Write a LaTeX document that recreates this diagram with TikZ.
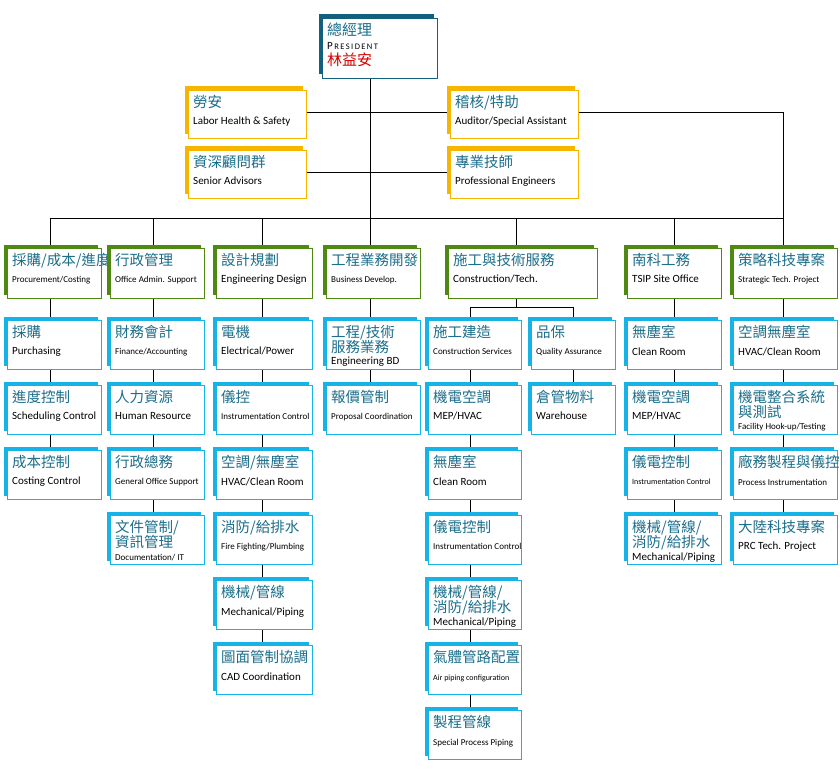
\documentclass[tikz,border=0pt]{standalone}
\usepackage{fontspec}
\setmainfont{Carlito}
\newfontfamily\cjfont{Noto Sans CJK TC}
\definecolor{teal}{HTML}{1B6E8C}
\definecolor{pres}{HTML}{12607C}
\definecolor{yel}{HTML}{F7B500}
\definecolor{grn}{HTML}{4E8A12}
\definecolor{cya}{HTML}{16B4E6}
\newcommand\cj[1]{{\cjfont\fontsize{14.5}{17}\selectfont\color{teal}#1}}
\newcommand\en[1]{{\fontsize{11}{17}\selectfont #1}}
\newcommand\es[1]{{\fontsize{9}{17}\selectfont #1}}
\tikzset{
 box/.style={draw=#1, fill=white, line width=0.9pt, inner sep=0pt,
   preaction={fill=#1, transform canvas={shift={(-3.5pt,3.5pt)}}}},
 conn/.style={line width=0.8pt, black}
}
\newcommand\bx[7]{%
 \node[box=#6, minimum width={(#4-#2)*1pt}, minimum height={(#5-#3)*1pt}] (#1) at ({(#2+#4)/2},{(#3+#5)/2}) {};
 \node[anchor=north west, align=left, inner sep=0pt, font=\fontsize{11}{17.5}\selectfont] (#1t) at ({#2+5},{#3+5}) {#7};}
\begin{document}
\begin{tikzpicture}[x=1pt,y=-1pt]
\useasboundingbox (0,0) rectangle (840,770);
\coordinate (j0) at (370,218);
\coordinate (jl) at (50,218);
\coordinate (jr) at (783,112);
\coordinate (b5) at (516,307);
\draw[conn] (370,78) -- (j0);
\draw[conn] (306,112) -- (450,112);
\draw[conn] (306,172) -- (450,172);
\draw[conn] (578,112) -- (jr) -- (783,248);
\draw[conn] (jl) -- (783,218);
\foreach \x in {50,153,262,370,516,674}{\draw[conn] (\x,218) -- (\x,248);}
\draw[conn] (516,298) -- (b5);
\draw[conn] (470,320) -- (470,307) -- (573,307) -- (573,320);
\foreach \x/\ya/\yy in {50/298/450,153/298/515,262/298/645,370/298/385,470/320/710,573/320/385,674/298/515,783/298/515}{\draw[conn] (\x,\ya) -- (\x,\yy);}
% top
\bx{pres}{322}{18}{437}{78}{pres}{{\cjfont\fontsize{15}{17}\selectfont\color{teal}總經理}\\[-4pt]{\fontsize{11}{13}\selectfont P\fontsize{8.5}{13}\selectfont\,R\,E\,S\,I\,D\,E\,N\,T}\\[-1pt]{\cjfont\fontsize{15}{17}\selectfont\color{red!85!black}林益安}}
\bx{labor}{188}{90}{306}{138}{yel}{\cj{勞安}\\\en{Labor Health \& Safety}}
\bx{senior}{188}{150}{306}{198}{yel}{\cj{資深顧問群}\\\en{Senior Advisors}}
\bx{audit}{450}{90}{578}{138}{yel}{\cj{稽核/特助}\\\en{Auditor/Special Assistant}}
\bx{prof}{450}{150}{578}{198}{yel}{\cj{專業技師}\\\en{Professional Engineers}}
% headers
\bx{h1}{7}{248}{101}{298}{grn}{\cj{採購/成本/進度}\\\es{Procurement/Costing}}
\bx{h2}{110}{248}{204}{298}{grn}{\cj{行政管理}\\\es{Office Admin. Support}}
\bx{h3}{216}{248}{312}{298}{grn}{\cj{設計規劃}\\\en{Engineering Design}}
\bx{h4}{326}{248}{420}{298}{grn}{\cj{工程業務開發}\\\es{Business Develop.}}
\bx{h5}{448}{248}{597}{298}{grn}{\cj{施工與技術服務}\\\en{Construction/Tech.}}
\bx{h6}{627}{248}{721}{298}{grn}{\cj{南科工務}\\\en{TSIP Site Office}}
\bx{h7}{733}{248}{837}{298}{grn}{\cj{策略科技專案}\\\es{Strategic Tech. Project}}
% col1
\bx{a1}{7}{320}{101}{369}{cya}{\cj{採購}\\\en{Purchasing}}
\bx{a2}{7}{385}{101}{434}{cya}{\cj{進度控制}\\\en{Scheduling Control}}
\bx{a3}{7}{450}{101}{499}{cya}{\cj{成本控制}\\\en{Costing Control}}
% col2
\bx{b1}{110}{320}{204}{369}{cya}{\cj{財務會計}\\\es{Finance/Accounting}}
\bx{b2}{110}{385}{204}{434}{cya}{\cj{人力資源}\\\en{Human Resource}}
\bx{b3}{110}{450}{204}{499}{cya}{\cj{行政總務}\\\es{General Office Support}}
\bx{b4}{110}{515}{204}{564}{cya}{\cj{文件管制/}\\[-2.5pt]\cj{資訊管理}\\[-5pt]\es{Documentation/ IT}}
% col3
\bx{c1}{216}{320}{312}{369}{cya}{\cj{電機}\\\en{Electrical/Power}}
\bx{c2}{216}{385}{312}{434}{cya}{\cj{儀控}\\\es{Instrumentation Control}}
\bx{c3}{216}{450}{312}{499}{cya}{\cj{空調/無塵室}\\\en{HVAC/Clean Room}}
\bx{c4}{216}{515}{312}{564}{cya}{\cj{消防/給排水}\\\es{Fire Fighting/Plumbing}}
\bx{c5}{216}{580}{312}{629}{cya}{\cj{機械/管線}\\\en{Mechanical/Piping}}
\bx{c6}{216}{645}{312}{694}{cya}{\cj{圖面管制協調}\\\en{CAD Coordination}}
% col4
\bx{d1}{326}{320}{420}{369}{cya}{\cj{工程/技術}\\[-2.5pt]\cj{服務業務}\\[-5pt]\en{Engineering BD}}
\bx{d2}{326}{385}{420}{434}{cya}{\cj{報價管制}\\\es{Proposal Coordination}}
% col5a
\bx{e1}{428}{320}{521}{369}{cya}{\cj{施工建造}\\\es{Construction Services}}
\bx{e2}{428}{385}{521}{434}{cya}{\cj{機電空調}\\\en{MEP/HVAC}}
\bx{e3}{428}{450}{521}{499}{cya}{\cj{無塵室}\\\en{Clean Room}}
\bx{e4}{428}{515}{521}{564}{cya}{\cj{儀電控制}\\\es{Instrumentation Control}}
\bx{e5}{428}{580}{521}{629}{cya}{\cj{機械/管線/}\\[-2.5pt]\cj{消防/給排水}\\[-5pt]\en{Mechanical/Piping}}
\bx{e6}{428}{645}{521}{694}{cya}{\cj{氣體管路配置}\\{\fontsize{8}{17}\selectfont Air piping configuration}}
\bx{e7}{428}{710}{521}{759}{cya}{\cj{製程管線}\\\es{Special Process Piping}}
% col5b
\bx{f1}{531}{320}{615}{369}{cya}{\cj{品保}\\\es{Quality Assurance}}
\bx{f2}{531}{385}{615}{434}{cya}{\cj{倉管物料}\\\en{Warehouse}}
% col6
\bx{g1}{627}{320}{721}{369}{cya}{\cj{無塵室}\\\en{Clean Room}}
\bx{g2}{627}{385}{721}{434}{cya}{\cj{機電空調}\\\en{MEP/HVAC}}
\bx{g3}{627}{450}{721}{499}{cya}{\cj{儀電控制}\\{\fontsize{8}{17}\selectfont Instrumentation Control}}
\bx{g4}{627}{515}{721}{564}{cya}{\cj{機械/管線/}\\[-2.5pt]\cj{消防/給排水}\\[-5pt]\en{Mechanical/Piping}}
% col7
\bx{k1}{733}{320}{837}{369}{cya}{\cj{空調無塵室}\\\en{HVAC/Clean Room}}
\bx{k2}{733}{385}{837}{434}{cya}{\cj{機電整合系統}\\[-2.5pt]\cj{與測試}\\[-5pt]\es{Facility Hook-up/Testing}}
\bx{k3}{733}{450}{837}{499}{cya}{\cj{廠務製程與儀控}\\\es{Process Instrumentation}}
\bx{k4}{733}{515}{837}{564}{cya}{\cj{大陸科技專案}\\\en{PRC Tech. Project}}
\end{tikzpicture}
\end{document}
